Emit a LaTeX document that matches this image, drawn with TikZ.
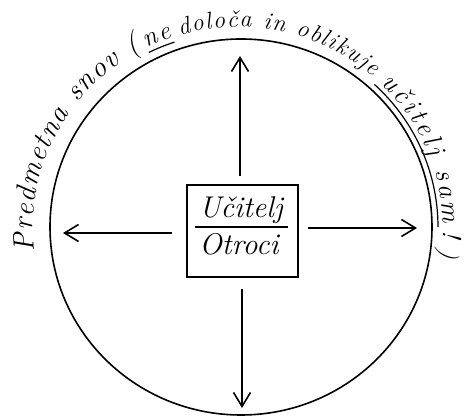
\documentclass[tikz,border=0pt]{standalone}
\usepackage{tikz}
\usetikzlibrary{decorations.text,arrows.meta}

\begin{document}
\begin{tikzpicture}[x=1pt,y=1pt,
  every node/.style={font=\fontsize{30}{30}\selectfont\itshape},
  arr/.style={line width=1.6pt,-{Straight Barb[length=14pt,width=17pt]}},
  arctext/.style 2 args={decorate,decoration={text along path,
    text={|\itshape\fontsize{#1}{#1}\selectfont|#2},text align={fit to path}}},
  uline/.style={line width=1.2pt}]
\useasboundingbox (-241,-192) rectangle (230,227);
\draw[line width=1.6pt] (0,0) ellipse[x radius=191pt,y radius=188pt];
% middle box
\node[draw,line width=1.8pt,minimum width=111pt,minimum height=92pt] (box) at (1.5,-4) {};
\node[anchor=base] (ucitelj) at (0,9) {Učitelj};
\node[anchor=base] (otroci) at (-2,-28) {Otroci};
\draw[line width=1.2pt] (-46,0) -- (47,0);
% arrows
\coordinate (n) at (-1,171);
\coordinate (s) at (1,-181);
\coordinate (w) at (-178,-6);
\coordinate (e) at (176,-1);
\draw[arr,shorten <=8pt] (box.north -| n) -- (n);
\draw[arr,shorten <=11pt] (box.south -| s) -- (s);
\draw[arr,shorten <=14pt] (box.west |- w) -- (w);
\draw[arr,shorten <=9pt] (box.east |- e) -- (e);
% text round the circle
\begin{scope}[xshift=-3pt]
\path[arctext={29}{Predmetna snov (}] (187:205 and 200) arc[start angle=187,end angle=118,x radius=205pt,y radius=200pt];
\path[arctext={26}{ne}] (116.5:205 and 200) arc[start angle=116.5,end angle=108.5,x radius=205pt,y radius=200pt];
\path[arctext={24}{določa in oblikuje}] (106.5:205 and 200) arc[start angle=106.5,end angle=49,x radius=205pt,y radius=200pt];
\path[arctext={27}{učitelj sam}] (46:205 and 200) arc[start angle=46,end angle=1,x radius=205pt,y radius=200pt];
\path[arctext={26}{!)}] (-1:205 and 200) arc[start angle=-1,end angle=-9,x radius=205pt,y radius=200pt];
\draw[uline] (116.5:200 and 195) arc[start angle=116.5,end angle=108.5,x radius=200pt,y radius=195pt];
\draw[uline] (47:200 and 195) arc[start angle=47,end angle=0,x radius=200pt,y radius=195pt];
\end{scope}
\end{tikzpicture}
\end{document}
